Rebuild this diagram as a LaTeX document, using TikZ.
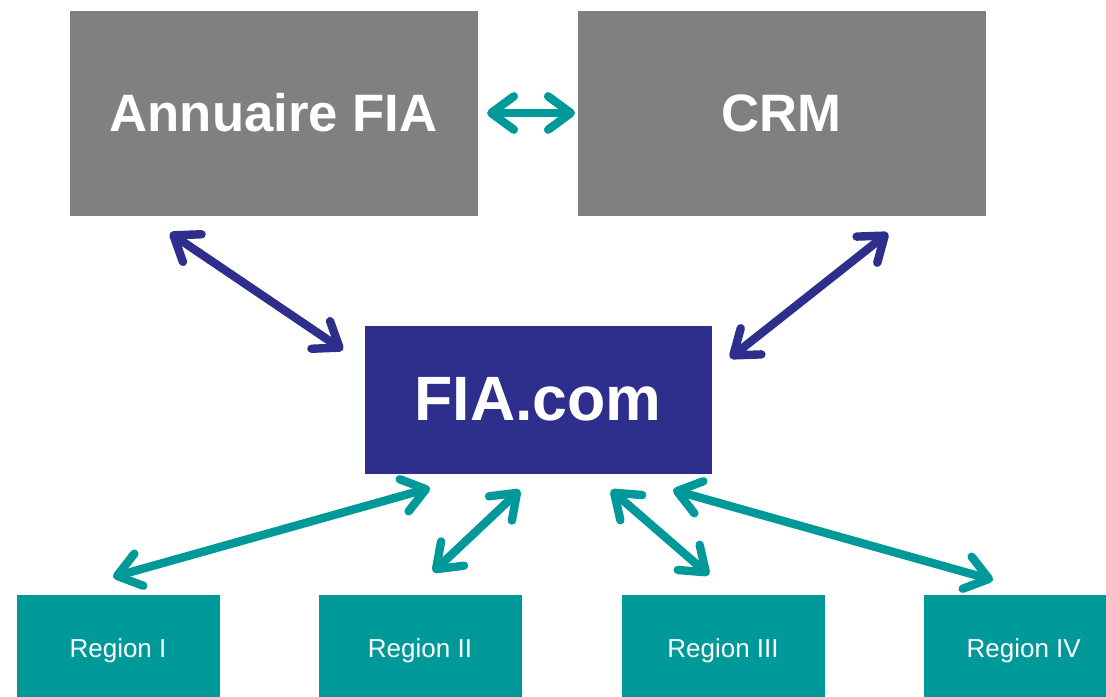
\documentclass[tikz,border=0pt]{standalone}
\usepackage{fontspec}
\setmainfont{Liberation Sans}
\usetikzlibrary{arrows.meta}

\definecolor{boxgray}{RGB}{128,128,128}
\definecolor{fianavy}{RGB}{46,46,140}
\definecolor{fiateal}{RGB}{0,153,153}

\tikzset{every picture/.style={line width=0.75pt}}
\tikzset{
  bigbox/.style={fill=boxgray, text=white, anchor=north west, inner sep=0pt,
    minimum width=306pt, minimum height=153.75pt,
    font=\fontsize{39.5}{44}\selectfont\bfseries},
  hubbox/.style={fill=fianavy, text=white, anchor=north west, inner sep=0pt,
    minimum width=260.25pt, minimum height=111pt,
    font=\fontsize{47}{52}\selectfont\bfseries},
  regionbox/.style={fill=fiateal, text=white, anchor=north west, inner sep=0pt,
    minimum width=152.25pt, minimum height=84pt,
    font=\fontsize{19.5}{22}\selectfont},
  link/.style={line width=6.3pt, <->,
    >={Straight Barb[round,length=17pt,width=25pt]}},
  navylink/.style={link, draw=fianavy},
  teallink/.style={link, draw=fiateal}
}

\begin{document}
\begin{tikzpicture}[x=0.75pt,y=0.75pt,yscale=-1,xscale=1]
\useasboundingbox (0,0) rectangle (1106,696);

%Shape: Rectangle [id:annuaire]
\node[bigbox] (ann) at (69,10) {Annuaire FIA};
%Shape: Rectangle [id:crm]
\node[bigbox] (crm) at (577,10) {CRM};
%Shape: Rectangle [id:fiacom]
\node[hubbox] (fia) at (364,325) {\raisebox{-2pt}{FIA.com}};
%Shape: Rectangle [id:regions]
\node[regionbox] (reg1) at (16,594) {Region I};
\node[regionbox] (reg2) at (318,594) {Region II};
\node[regionbox] (reg3) at (621,594) {Region III};
\node[regionbox] (reg4) at (923,594) {\hspace*{-2pt}Region IV};

% arrow ends
\coordinate (annS) at (170,233);
\coordinate (fiaNW) at (343,350);
\coordinate (crmS) at (888,233);
\coordinate (fiaNE) at (730,358);
\coordinate (fiaS1) at (430,488);
\coordinate (fiaS2) at (520,490);
\coordinate (fiaS3) at (611,490);
\coordinate (fiaS4) at (673,490);
\coordinate (reg1N) at (113,577);
\coordinate (reg2N) at (433,572);
\coordinate (reg3N) at (709,575);
\coordinate (reg4N) at (993,580);

%Straight Lines [id:top]
\draw[teallink, shorten <=6.75pt, shorten >=1.5pt] (ann.east) -- (crm.west);
%Straight Lines [id:middle]
\draw[navylink] (annS) -- (fiaNW);
\draw[navylink] (crmS) -- (fiaNE);
%Straight Lines [id:bottom]
\draw[teallink] (fiaS1) -- (reg1N);
\draw[teallink] (fiaS2) -- (reg2N);
\draw[teallink] (fiaS3) -- (reg3N);
\draw[teallink] (fiaS4) -- (reg4N);

\end{tikzpicture}
\end{document}
